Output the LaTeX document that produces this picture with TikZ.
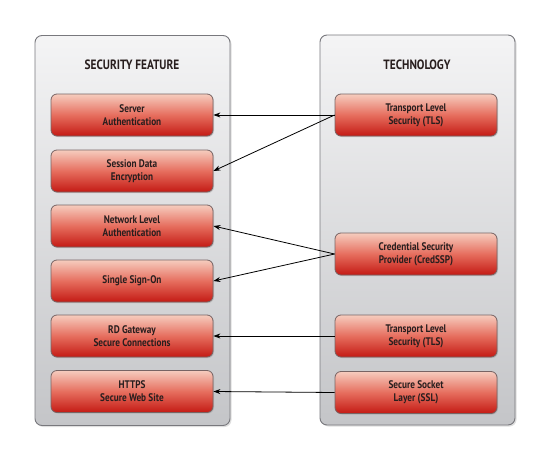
\documentclass[tikz,border=0pt]{standalone}
\usepackage{fontspec}
\setmainfont{PT Sans}[FakeStretch=0.84]
\usetikzlibrary{arrows.meta,shadows}
\definecolor{boxtop}{RGB}{246,204,190}
\definecolor{boxmid}{RGB}{230,110,94}
\definecolor{boxbot}{RGB}{196,26,20}
\definecolor{boxline}{RGB}{120,100,100}
\definecolor{paneltop}{RGB}{244,244,245}
\definecolor{panelbot}{RGB}{196,197,200}
\definecolor{panelline}{RGB}{120,120,125}
\definecolor{txt}{RGB}{40,30,30}
\tikzset{
  panel/.style={draw=panelline, line width=0.9pt, rounded corners=7pt,
    top color=paneltop, bottom color=panelbot, minimum width=195pt, minimum height=390pt,
    drop shadow={shadow xshift=1.5pt, shadow yshift=-1.5pt, opacity=0.25}},
  redbox/.style={draw=boxline, line width=0.8pt, rounded corners=6pt,
    top color=boxtop, bottom color=boxbot, middle color=boxmid,
    minimum width=162pt, minimum height=42pt, align=center,
    font=\bfseries\fontsize{11}{13}\selectfont, text=txt,
    drop shadow={shadow xshift=1pt, shadow yshift=-1pt, opacity=0.3}},
  heading/.style={font=\bfseries\fontsize{13.5}{15}\selectfont, text=txt},
  conn/.style={-{Stealth[length=7pt,width=5pt]}, line width=0.8pt, black}
}
\begin{document}
\begin{tikzpicture}[x=1pt,y=-1pt]
\useasboundingbox[fill=white] (0,0) rectangle (550,461);
\node[panel] (lp) at (132.5,230.5) {};
\node[panel] (rp) at (417.5,230) {};
\node[heading] (h1) at (132,65) {SECURITY FEATURE};
\node[heading] (h2) at (417,65) {TECHNOLOGY};
\node[redbox] (l1) at (132,115) {Server\\Authentication};
\node[redbox] (l2) at (132,171) {Session Data\\Encryption};
\node[redbox] (l3) at (132,226) {Network Level\\Authentication};
\node[redbox] (l4) at (132,281) {Single Sign-On};
\node[redbox] (l5) at (132,336) {RD Gateway\\Secure Connections};
\node[redbox] (l6) at (132,391.5) {HTTPS\\Secure Web Site};
\node[redbox] (r1) at (416,115) {Transport Level\\Security (TLS)};
\node[redbox] (r2) at (416,254) {Credential Security\\Provider (CredSSP)};
\node[redbox] (r3) at (416,336) {Transport Level\\Security (TLS)};
\node[redbox] (r4) at (416,392.5) {Secure Socket\\Layer (SSL)};
\draw[conn] (r1.west) -- (l1.east);
\draw[conn] (r1.west) -- (l2.east);
\draw[conn] (r2.west) -- (l3.east);
\draw[conn] (r2.west) -- (l4.east);
\draw[conn] (r3.west) -- (l5.east);
\draw[conn] (r4.west) -- (l6.east);
\end{tikzpicture}
\end{document}
